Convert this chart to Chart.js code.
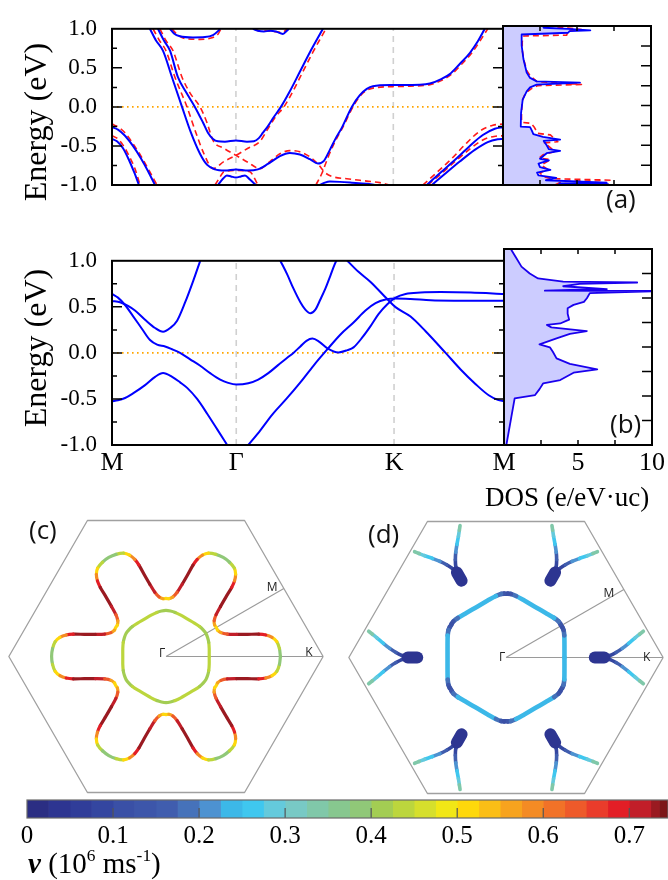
<!DOCTYPE html>
<html>
<head>
<meta charset="utf-8">
<script src="https://cdn.jsdelivr.net/npm/chart.js@4.4.1/dist/chart.umd.min.js"></script>
<style>
  html, body { margin: 0; padding: 0; background: #fff; overflow: hidden; }
  #page { position: relative; width: 668px; height: 880px; overflow: hidden; }
  canvas { position: absolute; }
  .lbl { position: absolute; white-space: nowrap; line-height: 1; color: #000; }
  .serif { font-family: 'Liberation Serif', 'DejaVu Serif', serif; }
  .sans { font-family: 'Open Sans', 'DejaVu Sans', sans-serif; color: #111; }
  sup { font-size: 60%; vertical-align: 0.7em; }
</style>
</head>
<body>
<div id="page">
  <canvas id="bandA" width="510" height="232" style="left:0;top:0"></canvas>
  <canvas id="dosA" width="173" height="232" style="left:495px;top:0"></canvas>
  <canvas id="bandB" width="520" height="250" style="left:0;top:232px"></canvas>
  <canvas id="dosB" width="173" height="250" style="left:495px;top:232px"></canvas>
  <canvas id="fsC" width="330" height="289" style="left:1px;top:512px"></canvas>
  <canvas id="fsD" width="330" height="289" style="left:341px;top:513px"></canvas>
  <canvas id="cbar" width="668" height="62" style="left:0;top:790px"></canvas>

  <div class="lbl serif" style="left:35px;top:122px;font-size:32px;transform:translate(-50%,-50%) rotate(-90deg)">Energy (eV)</div>
  <div class="lbl serif" style="left:35px;top:348px;font-size:32px;transform:translate(-50%,-50%) rotate(-90deg)">Energy (eV)</div>
  <div class="lbl sans" style="left:606px;top:185px;font-size:26px">(a)</div>
  <div class="lbl sans" style="left:610px;top:410px;font-size:26px">(b)</div>
  <div class="lbl sans" style="left:29px;top:516px;font-size:26px">(c)</div>
  <div class="lbl sans" style="left:368px;top:520px;font-size:26px">(d)</div>
  <div class="lbl serif" style="left:485px;top:484px;font-size:27px">DOS (e/eV·uc)</div>
  <div class="lbl serif" style="left:28px;top:847px;font-size:29px"><b><i>v</i></b> (10<sup>6</sup> ms<sup>-1</sup>)</div>
</div>

<script>
// k-path: M - Gamma - K - M
var kTicks = [0, 1, 2.27, 3.155];
var kLabels = ['M', 'Γ', 'K', 'M'];
var eTicks = [-1, -0.5, 0, 0.5, 1];

// panel (a), with SOC (blue) -- [k, E]
var blueA1 = [[0.306,1.0],[0.355,0.85],[0.411,0.72],[0.484,0.38],[0.565,0.0],[0.637,-0.33],[0.710,-0.60],[0.766,-0.74],[0.831,-0.80],[0.911,-0.815],[1.0,-0.80],[1.097,-0.815],[1.177,-0.80],[1.258,-0.73],[1.355,-0.63],[1.435,-0.59],[1.516,-0.61],[1.597,-0.67],[1.661,-0.725],[1.710,-0.69],[1.758,-0.55],[1.806,-0.40],[1.855,-0.265],[1.935,0.0],[2.0,0.15],[2.056,0.23],[2.105,0.265],[2.266,0.28],[2.484,0.285],[2.565,0.30],[2.661,0.36],[2.726,0.42],[2.806,0.55],[2.887,0.69],[2.952,0.84],[3.008,1.0]];
var blueA2 = [[0.371,1.0],[0.419,0.85],[0.468,0.72],[0.532,0.38],[0.597,0.19],[0.669,0.0],[0.734,-0.2],[0.774,-0.33],[0.815,-0.41],[0.855,-0.44],[0.911,-0.445],[1.0,-0.43],[1.089,-0.445],[1.145,-0.44],[1.185,-0.40],[1.218,-0.33],[1.250,-0.265],[1.306,-0.13],[1.363,0.0],[1.435,0.2],[1.516,0.45],[1.597,0.7],[1.702,1.0]];
var blueA3 = [[0.855,-1.0],[0.895,-0.92],[0.927,-0.878],[0.96,-0.89],[1.0,-0.905],[1.04,-0.89],[1.073,-0.878],[1.113,-0.93],[1.161,-1.0]];
var blueA4 = [[1.677,-1.0],[1.718,-0.97],[1.758,-0.956],[1.839,-0.96],[1.935,-0.97],[2.056,-0.985],[2.121,-1.0]];
var blueA5 = [[0.468,1.0],[0.500,0.94],[0.548,0.905],[0.653,0.89],[0.750,0.895],[0.815,0.92],[0.855,0.97],[0.871,1.0]];
var blueA6 = [[1.137,1.0],[1.177,0.975],[1.226,0.965],[1.274,0.975],[1.323,0.965],[1.379,0.935],[1.411,0.975],[1.427,1.0]];
var blueA7 = [[0,-0.26],[0.048,-0.29],[0.105,-0.37],[0.169,-0.5],[0.234,-0.66],[0.290,-0.82],[0.347,-1.0]];
var blueA8 = [[0,-0.41],[0.040,-0.44],[0.089,-0.53],[0.137,-0.68],[0.177,-0.83],[0.218,-1.0]];
var blueA9 = [[2.540,-1.0],[2.645,-0.85],[2.766,-0.68],[2.887,-0.5],[2.992,-0.36],[3.089,-0.28],[3.155,-0.26]];
var blueA10 = [[2.581,-1.0],[2.685,-0.86],[2.806,-0.7],[2.927,-0.55],[3.032,-0.45],[3.113,-0.415],[3.155,-0.41]];

// panel (a), without SOC (red dashed)
var redA1 = [[0.331,1.0],[0.379,0.86],[0.435,0.72],[0.508,0.38],[0.605,0.0],[0.677,-0.33],[0.742,-0.6],[0.815,-0.79],[0.903,-0.70],[1.0,-0.62],[1.097,-0.53],[1.194,-0.44],[1.258,-0.28],[1.323,-0.12],[1.387,0.0],[1.460,0.2],[1.540,0.45],[1.621,0.7],[1.726,1.0]];
var redA2 = [[0.387,1.0],[0.435,0.85],[0.492,0.72],[0.565,0.38],[0.629,0.18],[0.710,0.0],[0.766,-0.2],[0.815,-0.43],[0.903,-0.53],[1.0,-0.62],[1.097,-0.71],[1.194,-0.79],[1.274,-0.7],[1.355,-0.6],[1.435,-0.56],[1.516,-0.575],[1.597,-0.64],[1.661,-0.73],[1.718,-0.84],[1.774,-0.89],[1.895,-0.92],[2.056,-0.95],[2.161,-0.97],[2.242,-1.0]];
var redA3 = [[1.645,-1.0],[1.694,-0.85],[1.742,-0.65],[1.798,-0.45],[1.863,-0.26],[1.944,0.0],[2.008,0.15],[2.065,0.22],[2.145,0.25],[2.266,0.26],[2.403,0.265],[2.565,0.285],[2.661,0.34],[2.742,0.42],[2.823,0.55],[2.903,0.69],[2.968,0.84],[3.032,1.0]];
var redA4 = [[0.831,-1.0],[0.871,-0.9],[0.903,-0.83],[1.0,-0.815],[1.113,-0.83],[1.145,-0.9],[1.177,-1.0]];
var redA5 = [[0.484,1.0],[0.524,0.93],[0.589,0.875],[0.710,0.865],[0.806,0.885],[0.855,0.93],[0.879,1.0]];
var redA6 = [[1.153,1.0],[1.194,0.97],[1.242,0.975],[1.298,0.965],[1.371,0.955],[1.419,1.0]];
var redA7 = [[0,-0.22],[0.048,-0.255],[0.105,-0.33],[0.169,-0.47],[0.234,-0.63],[0.298,-0.81],[0.363,-1.0]];
var redA8 = [[0,-0.37],[0.040,-0.40],[0.089,-0.49],[0.145,-0.65],[0.185,-0.79],[0.226,-1.0]];
var redA9 = [[2.508,-1.0],[2.621,-0.84],[2.742,-0.66],[2.863,-0.46],[2.968,-0.31],[3.073,-0.235],[3.155,-0.22]];
var redA10 = [[2.548,-1.0],[2.661,-0.85],[2.782,-0.68],[2.903,-0.52],[3.008,-0.41],[3.097,-0.375],[3.155,-0.37]];

// panel (b) bands
var bandB1 = [[0,0.565],[0.065,0.55],[0.129,0.51],[0.185,0.46],[0.266,0.36],[0.347,0.27],[0.411,0.23],[0.468,0.27],[0.524,0.35],[0.589,0.55],[0.653,0.78],[0.710,1.0]];
var bandB2 = [[0,0.64],[0.048,0.6],[0.105,0.52],[0.169,0.4],[0.242,0.26],[0.306,0.14],[0.363,0.09],[0.427,0.07],[0.484,0.04],[0.548,0.0],[0.629,-0.07],[0.710,-0.14],[0.790,-0.22],[0.871,-0.29],[0.935,-0.325],[1.0,-0.343],[1.097,-0.33],[1.177,-0.29],[1.258,-0.22],[1.339,-0.13],[1.403,-0.06],[1.460,0.0],[1.516,0.07],[1.565,0.13],[1.613,0.155],[1.669,0.12],[1.734,0.05],[1.823,0.005],[1.895,0.03],[1.944,0.06],[2.016,0.17],[2.081,0.29],[2.145,0.42],[2.218,0.53],[2.282,0.6],[2.363,0.64],[2.484,0.655],[2.645,0.66],[2.887,0.655],[3.155,0.64]];
var bandB3 = [[0,-0.524],[0.048,-0.515],[0.105,-0.49],[0.169,-0.44],[0.266,-0.35],[0.347,-0.26],[0.411,-0.218],[0.484,-0.26],[0.548,-0.32],[0.605,-0.38],[0.685,-0.5],[0.766,-0.66],[0.847,-0.83],[0.927,-1.0]];
var bandB4 = [[1.097,-1.0],[1.194,-0.84],[1.290,-0.67],[1.403,-0.5],[1.516,-0.32],[1.621,-0.14],[1.734,0.04],[1.839,0.2],[1.944,0.33],[2.040,0.46],[2.121,0.54],[2.202,0.58],[2.282,0.59],[2.403,0.585],[2.565,0.572],[2.806,0.567],[3.155,0.565]];
var bandB5 = [[1.355,1.0],[1.411,0.85],[1.460,0.70],[1.516,0.55],[1.556,0.47],[1.597,0.43],[1.637,0.47],[1.677,0.58],[1.718,0.70],[1.758,0.84],[1.806,1.0],[1.853,1.06],[1.895,1.0],[1.984,0.88],[2.081,0.77],[2.218,0.58],[2.282,0.497],[2.403,0.395],[2.524,0.235],[2.685,0.0],[2.806,-0.18],[2.927,-0.34],[3.032,-0.46],[3.105,-0.51],[3.155,-0.524]];

// density of states [DOS, E]
var dosBlueA = [[2.7,1.0],[2.75,0.978],[4.4,0.965],[5.9,0.945],[4.5,0.935],[4.4,0.915],[1.26,0.893],[1.26,0.755],[1.38,0.585],[1.6,0.415],[1.83,0.347],[2.28,0.303],[5.2,0.288],[2.28,0.262],[1.83,0.228],[1.6,0.177],[1.33,0.075],[1.22,-0.095],[1.2,-0.265],[1.83,-0.272],[1.95,-0.315],[2.05,-0.36],[2.7,-0.395],[3.86,-0.43],[2.75,-0.445],[2.95,-0.5],[3.1,-0.55],[3.86,-0.57],[2.95,-0.6],[2.5,-0.67],[3.1,-0.69],[2.4,-0.73],[2.5,-0.775],[3.2,-0.81],[2.3,-0.845],[2.4,-0.88],[3.6,-0.91],[2.9,-0.94],[7.0,-0.97],[3.8,-0.98],[7.1,-0.99],[3.0,-1.0]];
var dosRedA = [[3.0,1.0],[4.4,0.975],[5.3,0.955],[4.4,0.94],[4.3,0.885],[1.4,0.875],[1.3,0.8],[1.3,0.7],[1.4,0.58],[1.6,0.44],[1.85,0.37],[2.3,0.3],[5.3,0.265],[2.35,0.25],[1.9,0.21],[1.5,0.15],[1.3,0.06],[1.25,-0.1],[1.25,-0.21],[1.9,-0.225],[2.1,-0.27],[2.35,-0.35],[3.2,-0.37],[3.7,-0.455],[2.8,-0.47],[3.2,-0.53],[3.5,-0.58],[2.7,-0.62],[2.45,-0.66],[3.2,-0.68],[2.6,-0.75],[3.0,-0.8],[2.5,-0.85],[2.8,-0.9],[3.3,-0.92],[7.4,-0.94],[4.0,-0.955],[3.5,-1.0]];
var dosBlueB = [[0.5,1.0],[0.5,0.99],[0.84,0.905],[1.18,0.82],[1.74,0.75],[2.3,0.70],[4.0,0.667],[9.0,0.658],[5.1,0.645],[4.0,0.62],[6.95,0.59],[4.45,0.582],[2.76,0.575],[10.5,0.571],[5.8,0.55],[5.6,0.497],[5.4,0.46],[4.7,0.43],[4.3,0.395],[4.3,0.34],[4.4,0.28],[3.8,0.24],[2.9,0.225],[3.2,0.2],[5.6,0.163],[4.45,0.133],[3.55,0.088],[2.4,0.027],[3.1,-0.003],[3.3,-0.048],[3.55,-0.116],[4.45,-0.173],[6.3,-0.228],[4.7,-0.262],[3.8,-0.337],[2.65,-0.37],[2.4,-0.43],[2.1,-0.49],[0.72,-0.524],[0.5,-0.71],[0.16,-1.0]];
var dosTicks = [2.5, 5, 7.5];
var dosLabels = [5, 10];

// Fermi surfaces: one 30-degree wedge, [kx, ky, v] (units of Gamma-K)
var flowerC = [[0.728,0,0.37],[0.722,0.05,0.41],[0.705,0.095,0.47],[0.675,0.122,0.54],[0.635,0.137,0.63],[0.59,0.142,0.72],[0.52,0.141,0.735],[0.45,0.141,0.73],[0.39,0.143,0.67],[0.35,0.152,0.58],[0.328,0.168,0.52],[0.320,0.185,0.49]];
var pocketC = [[0.275,0,0.43],[0.275,0.05,0.43],[0.272,0.09,0.42],[0.265,0.12,0.41],[0.254,0.147,0.41]];
var hexD = [[0.372,0,0.245],[0.372,0.08,0.24],[0.371,0.14,0.225],[0.366,0.175,0.17],[0.358,0.193,0.12],[0.351,0.203,0.10]];
var armD = [[0.62,0,0.04],[0.66,0.012,0.07],[0.70,0.032,0.12],[0.74,0.058,0.18],[0.78,0.09,0.23],[0.82,0.124,0.27],[0.85,0.148,0.31],[0.874,0.167,0.35]];
var blobD = [[0.565,0,0.03],[0.625,0,0.04]];
var bzHex = [[1,0],[0.5,0.866],[-0.5,0.866],[-1,0],[-0.5,-0.866],[0.5,-0.866],[1,0]];
var lineGK = [[0,0],[1,0]];
var lineGM = [[0,0],[0.75,0.433]];

// colour bar
var cbEdges = [0,0.025,0.05,0.075,0.1,0.125,0.15,0.175,0.2,0.225,0.25,0.275,0.3,0.325,0.35,0.375,0.4,0.425,0.45,0.475,0.5,0.525,0.55,0.575,0.6,0.625,0.65,0.675,0.7,0.725,0.735,0.745];
var cbColors = ['#2b2e83','#2d3591','#303d99','#3446a0','#3a50a6','#3d56aa','#405dae','#4672ba','#4d92d1','#3cb8e8','#3fc7ef','#64cadc','#78c9c5','#80c8a9','#87c78f','#90c878','#a3cd53','#bcd63d','#d6df2c','#f1e716','#fed80b','#fbbe16','#f7a31e','#f48b24','#f17228','#ee5a2a','#ea3c2b','#e31e26','#c21e29','#9a1a21','#7d1618'];
var cbTicks = [0, 0.1, 0.2, 0.3, 0.4, 0.5, 0.6, 0.7];

var SERIF = "'Liberation Serif', 'DejaVu Serif', serif";
Chart.defaults.font.family = SERIF;
Chart.defaults.color = '#000';
Chart.defaults.elements.point.radius = 0;
Chart.defaults.elements.line.borderJoinStyle = 'round';

function pts(a) { return a.map(function(p) { return {x: p[0], y: p[1]}; }); }

function vColor(v) {
  for (var i = 0; i < cbColors.length; i++) {
    if (v < cbEdges[i + 1]) return cbColors[i];
  }
  return cbColors[cbColors.length - 1];
}

// frame + inward ticks drawn with the chart's own scales
function panelDeco(cfg) {
  return {
    id: 'panelDeco',
    afterDatasetsDraw: function(chart) {
      var ctx = chart.ctx, a = chart.chartArea, sx = chart.scales.x, sy = chart.scales.y;
      ctx.save();
      ctx.strokeStyle = cfg.tickColor || '#000';
      ctx.lineWidth = cfg.tickWidth || 1.5;
      ctx.beginPath();
      (cfg.left || []).forEach(function(t) { var p = sy.getPixelForValue(t[0]); ctx.moveTo(a.left, p); ctx.lineTo(a.left + t[1], p); });
      (cfg.right || []).forEach(function(t) { var p = sy.getPixelForValue(t[0]); ctx.moveTo(a.right, p); ctx.lineTo(a.right - t[1], p); });
      (cfg.top || []).forEach(function(t) { var p = sx.getPixelForValue(t[0]); ctx.moveTo(p, a.top); ctx.lineTo(p, a.top + t[1]); });
      (cfg.bottom || []).forEach(function(t) { var p = sx.getPixelForValue(t[0]); ctx.moveTo(p, a.bottom); ctx.lineTo(p, a.bottom - t[1]); });
      ctx.stroke();
      if (cfg.frame) {
        ctx.lineWidth = cfg.frame;
        ctx.strokeStyle = cfg.frameColor || '#000';
        ctx.strokeRect(a.left, a.top, a.right - a.left, a.bottom - a.top);
      }
      ctx.restore();
    }
  };
}

var eMajor = [[-0.5,10],[0,10],[0.5,10],[-0.75,5],[-0.25,5],[0.25,5],[0.75,5]];
var eAll = [[-0.75,10],[-0.5,10],[-0.25,10],[0,10],[0.25,10],[0.5,10],[0.75,10]];
var dosTop = dosTicks.map(function(v) { return [v, 5]; });

function blueSet(a) { return {data: pts(a), borderColor: '#0000ff', borderWidth: 2, cubicInterpolationMode: 'monotone', fill: false}; }
function redSet(a) { return {data: pts(a), borderColor: '#ff1a1a', borderWidth: 1.6, borderDash: [6, 4], cubicInterpolationMode: 'monotone', fill: false}; }
function guideSets() {
  return [
    {data: pts([[0,0],[3.155,0]]), borderColor: '#ffa500', borderWidth: 1.6, borderDash: [1.6, 3.4]},
    {data: pts([[kTicks[1],-1],[kTicks[1],1]]), borderColor: '#d0d0d0', borderWidth: 1.6, borderDash: [6, 5]},
    {data: pts([[kTicks[2],-1],[kTicks[2],1]]), borderColor: '#d0d0d0', borderWidth: 1.6, borderDash: [6, 5]}
  ];
}

function bandChart(id, sets, showX, pad) {
  return new Chart(document.getElementById(id), {
    type: 'line',
    data: {datasets: sets.concat(guideSets())},
    options: {
      responsive: false, animation: false, events: [],
      layout: {padding: pad},
      plugins: {legend: {display: false}, tooltip: {enabled: false}},
      scales: {
        x: {
          type: 'linear', min: 0, max: 3.155, display: showX,
          afterBuildTicks: function(s) { s.ticks = kTicks.map(function(v) { return {value: v}; }); },
          afterFit: function(s) { s.height = 37; },
          grid: {display: false, drawTicks: false}, border: {display: false},
          ticks: {autoSkip: false, maxRotation: 0, padding: 3, font: {size: 26},
                  callback: function(v, i) { return kLabels[i]; }}
        },
        y: {
          type: 'linear', min: -1, max: 1,
          afterBuildTicks: function(s) { s.ticks = eTicks.map(function(v) { return {value: v}; }); },
          afterFit: function(s) { s.width = 112; },
          grid: {display: false, drawTicks: false}, border: {display: false},
          ticks: {autoSkip: false, padding: 15, font: {size: 23},
                  callback: function(v) { return v.toFixed(1); }}
        }
      }
    },
    plugins: [panelDeco({frame: 2, left: eMajor, right: eMajor})]
  });
}

bandChart('bandA',
  [blueA1, blueA2, blueA3, blueA4, blueA5, blueA6, blueA7, blueA8, blueA9, blueA10].map(blueSet)
    .concat([redA1, redA2, redA3, redA4, redA5, redA6, redA7, redA8, redA9, redA10].map(redSet)),
  false, {left: 0, top: 26, right: 7, bottom: 10});

bandChart('bandB', [bandB1, bandB2, bandB3, bandB4, bandB5].map(blueSet), true,
  {left: 0, top: 17, right: 16, bottom: 0});

function dosChart(id, sets, showX, pad) {
  return new Chart(document.getElementById(id), {
    type: 'line',
    data: {datasets: sets},
    options: {
      indexAxis: 'y',
      responsive: false, animation: false, events: [],
      layout: {padding: pad},
      plugins: {legend: {display: false}, tooltip: {enabled: false}, filler: {drawTime: 'beforeDatasetsDraw'}},
      scales: {
        x: {
          type: 'linear', min: 0, max: 10, display: showX,
          afterBuildTicks: function(s) { s.ticks = dosLabels.map(function(v) { return {value: v}; }); },
          afterFit: function(s) { s.height = 37; },
          grid: {display: false, drawTicks: false}, border: {display: false},
          ticks: {autoSkip: false, maxRotation: 0, padding: 3, font: {size: 26}}
        },
        y: {type: 'linear', min: -1, max: 1, display: false}
      }
    },
    plugins: [panelDeco({frame: 2, right: eAll, top: dosTop, bottom: dosTop})]
  });
}

dosChart('dosA', [
  {data: pts(dosBlueA), borderColor: '#0000ff', borderWidth: 1.8, backgroundColor: '#ccccff', fill: 'origin'},
  {data: pts(dosRedA), borderColor: '#ff1a1a', borderWidth: 1.6, borderDash: [6, 4], fill: false}
], false, {left: 8, top: 26, right: 17, bottom: 10});

dosChart('dosB', [
  {data: pts(dosBlueB), borderColor: '#1a00ee', borderWidth: 1.8, backgroundColor: '#ccccff', fill: 'origin'}
], true, {left: 9, top: 17, right: 16, bottom: 0});

// ---- Fermi surfaces ----
var C60 = 0.5, S60 = Math.sqrt(3) / 2;
function rot(p, n) {
  var a = n * Math.PI / 3, c = Math.cos(a), s = Math.sin(a);
  return {x: p.x * c - p.y * s, y: p.x * s + p.y * c, v: p.v};
}
function mirror30(p) { return {x: C60 * p.x + S60 * p.y, y: S60 * p.x - C60 * p.y, v: p.v}; }
function toObj(a) { return a.map(function(p) { return {x: p[0], y: p[1], v: p[2]}; }); }
function sixfold(sector) {
  var s = toObj(sector);
  var wedge = s.concat(s.slice(0, -1).reverse().map(mirror30));
  var loop = [];
  for (var n = 0; n < 6; n++) {
    loop = loop.concat(wedge.slice(0, -1).map(function(p) { return rot(p, n); }));
  }
  loop.push(loop[0]);
  return loop;
}
function colorSeg(ctx) {
  var d = ctx.chart.data.datasets[ctx.datasetIndex].data;
  return vColor((d[ctx.p0DataIndex].v + d[ctx.p1DataIndex].v) / 2);
}
function fsSet(data, width) {
  return {data: data, borderWidth: width, borderColor: vColor(data[0].v), tension: 0.3,
          borderCapStyle: 'round', segment: {borderColor: colorSeg}};
}
function bzSets() {
  return [
    {data: pts(lineGM), borderColor: '#9a9a9a', borderWidth: 1.1},
    {data: pts(lineGK), borderColor: '#9a9a9a', borderWidth: 1.1},
    {data: pts(bzHex), borderColor: '#a0a0a0', borderWidth: 1.3}
  ];
}
function bzText(items) {
  return {
    id: 'bzText',
    afterDatasetsDraw: function(chart) {
      var ctx = chart.ctx, x = chart.scales.x, y = chart.scales.y;
      ctx.save();
      ctx.font = "12px 'Open Sans', 'DejaVu Sans', sans-serif";
      ctx.fillStyle = '#222';
      ctx.textAlign = 'center';
      ctx.textBaseline = 'middle';
      items.forEach(function(t) { ctx.fillText(t[0], x.getPixelForValue(t[1]), y.getPixelForValue(t[2])); });
      ctx.restore();
    }
  };
}
function fsChart(id, sets, labels) {
  return new Chart(document.getElementById(id), {
    type: 'line',
    data: {datasets: sets.concat(bzSets())},
    options: {
      responsive: false, animation: false, events: [],
      layout: {padding: 0},
      plugins: {legend: {display: false}, tooltip: {enabled: false}},
      scales: {
        x: {type: 'linear', min: -1.05, max: 1.05, display: false},
        y: {type: 'linear', min: -0.92, max: 0.92, display: false}
      }
    },
    plugins: [bzText(labels)]
  });
}

fsChart('fsC', [fsSet(sixfold(flowerC), 3.2), fsSet(sixfold(pocketC), 3.2)],
  [['Γ', -0.025, 0.02], ['M', 0.676, 0.437], ['K', 0.91, 0.025]]);

var dSets = [];
for (var n = 0; n < 6; n++) {
  var blob = toObj(blobD).map(function(p) { return rot(p, n); });
  dSets.push({data: blob, borderWidth: 12, borderColor: vColor(0.03), borderCapStyle: 'round'});
  var up = toObj(armD).map(function(p) { return rot(p, n); });
  var dn = toObj(armD).map(function(p) { return rot({x: p.x, y: -p.y, v: p.v}, n); });
  dSets.push(fsSet(up, 3.6));
  dSets.push(fsSet(dn, 3.6));
}
dSets.unshift(fsSet(sixfold(hexD), 4.6));
fsChart('fsD', dSets, [['Γ', -0.025, 0.0], ['M', 0.655, 0.41], ['K', 0.895, 0.0]]);

// ---- colour bar ----
new Chart(document.getElementById('cbar'), {
  type: 'bar',
  data: {
    labels: [''],
    datasets: cbColors.map(function(c, i) {
      return {data: [[cbEdges[i], cbEdges[i + 1]]], backgroundColor: c, borderWidth: 0,
              grouped: false, barPercentage: 1, categoryPercentage: 1};
    })
  },
  options: {
    indexAxis: 'y',
    responsive: false, animation: false, events: [],
    layout: {padding: {left: 27, right: 0, top: 10, bottom: 0}},
    plugins: {legend: {display: false}, tooltip: {enabled: false}},
    scales: {
      x: {
        type: 'linear', min: 0, max: 0.745,
        afterBuildTicks: function(s) { s.ticks = cbTicks.map(function(v) { return {value: v}; }); },
        afterFit: function(s) { s.height = 34; },
        grid: {display: false, drawTicks: false}, border: {display: false},
        ticks: {autoSkip: false, maxRotation: 0, padding: 3, font: {size: 25},
                callback: function(v) { return v === 0 ? '0' : v.toFixed(1); }}
      },
      y: {display: false}
    }
  },
  plugins: [panelDeco({frame: 1.2, frameColor: '#6a6a6a', tickColor: '#555', tickWidth: 1.2,
    bottom: cbTicks.slice(1).map(function(v) { return [v, 10]; })})]
});
</script>
</body>
</html>
